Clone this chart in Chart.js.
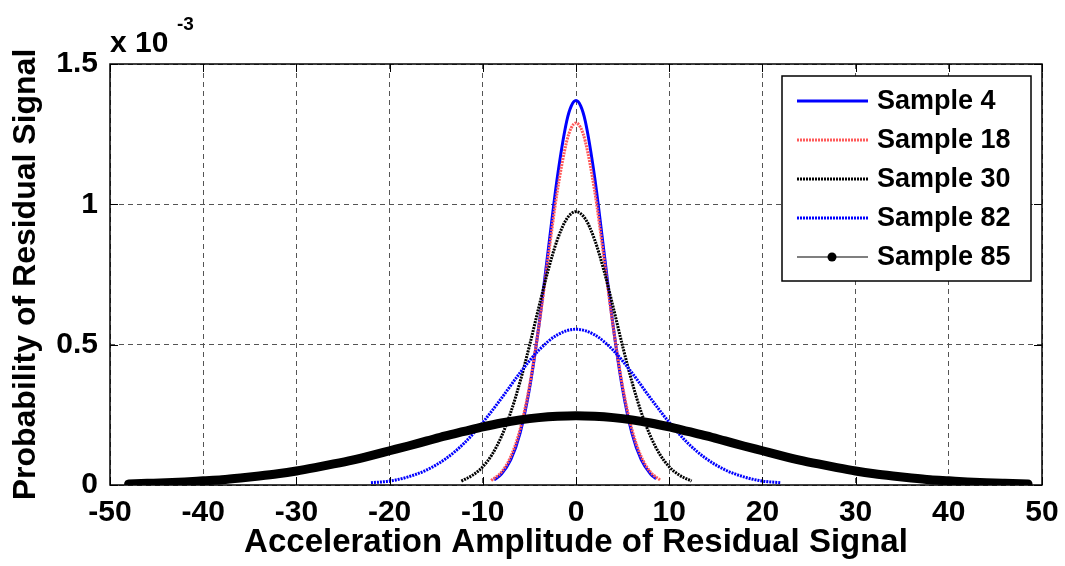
<!DOCTYPE html>
<html>
<head>
<meta charset="utf-8">
<script src="https://cdn.jsdelivr.net/npm/chart.js@4.4.0/dist/chart.umd.min.js"></script>
<style>
  html, body { margin: 0; padding: 0; background: #fff; }
  #wrap { width: 1065px; height: 566px; }
</style>
</head>
<body>
<div id="wrap"><canvas id="pdf" width="1065" height="566"></canvas></div>
<script>
// values (y in units of 1e-3)
const xTicks = [-50, -40, -30, -20, -10, 0, 10, 20, 30, 40, 50];
const yTicks = [0, 0.5, 1, 1.5];
const seriesNames = ["Sample 4", "Sample 18", "Sample 30", "Sample 82", "Sample 85"];

const s4X = [-8.8, -8, -7, -6, -5, -4, -3, -2, -1, -0.5, 0, 0.5, 1, 2, 3, 4, 5, 6, 7, 8, 8.6];
const s4Y = [0.018, 0.039, 0.09, 0.185, 0.342, 0.563, 0.831, 1.097, 1.296, 1.351, 1.37, 1.351, 1.296, 1.097, 0.831, 0.563, 0.342, 0.185, 0.09, 0.039, 0.022];

const s18X = [-9.1, -8, -7, -6, -5, -4, -3, -2, -1, -0.5, 0, 0.5, 1, 2, 3, 4, 5, 6, 7, 8, 9.1];
const s18Y = [0.016, 0.046, 0.101, 0.198, 0.351, 0.561, 0.808, 1.048, 1.224, 1.273, 1.29, 1.273, 1.224, 1.048, 0.808, 0.561, 0.351, 0.198, 0.101, 0.046, 0.016];

const s30X = [-12.3, -11, -10, -9, -8, -7, -6, -5, -4, -3, -2, -1, 0, 1, 2, 3, 4, 5, 6, 7, 8, 9, 10, 11, 12.4];
const s30Y = [0.014, 0.037, 0.065, 0.109, 0.173, 0.259, 0.368, 0.495, 0.632, 0.764, 0.874, 0.948, 0.974, 0.948, 0.874, 0.764, 0.632, 0.495, 0.368, 0.259, 0.173, 0.109, 0.065, 0.037, 0.014];

const s82X = [-22, -20, -18, -16, -14, -12, -10, -8, -6, -4, -2, 0, 2, 4, 6, 8, 10, 12, 14, 16, 18, 20, 22];
const s82Y = [0.008, 0.014, 0.029, 0.054, 0.093, 0.149, 0.223, 0.309, 0.4, 0.48, 0.535, 0.555, 0.535, 0.48, 0.4, 0.309, 0.223, 0.149, 0.093, 0.054, 0.029, 0.014, 0.008];

const s85X = [-48, -46, -44, -42, -40, -38, -36, -34, -32, -30, -28, -26, -24, -22, -20, -18, -16, -14, -12, -10, -8, -6, -4, -2, 0,
              2, 4, 6, 8, 10, 12, 14, 16, 18, 20, 22, 24, 26, 28, 30, 32, 34, 36, 38, 40, 42, 44, 46, 48.5];
const s85Y = [0.004, 0.006, 0.008, 0.011, 0.015, 0.019, 0.025, 0.032, 0.04, 0.05, 0.062, 0.075, 0.089, 0.105, 0.122, 0.139, 0.157, 0.175, 0.191, 0.207, 0.221, 0.232, 0.24, 0.245, 0.247,
              0.245, 0.24, 0.232, 0.221, 0.207, 0.191, 0.175, 0.157, 0.139, 0.122, 0.105, 0.089, 0.075, 0.062, 0.05, 0.04, 0.032, 0.025, 0.019, 0.015, 0.011, 0.008, 0.006, 0.004];

function pts(xs, ys) {
  return xs.map((v, i) => ({ x: v, y: ys[i] }));
}

const FONT = "'Liberation Sans', Arial, sans-serif";

// legend look for each series
const legendStyle = [
  { color: "#0000ff", width: 3, dash: [] },
  { color: "#ff5a5a", width: 3, dash: [2, 1] },
  { color: "#000000", width: 3, dash: [2, 1] },
  { color: "#0000ff", width: 3, dash: [2, 1] },
  { color: "#000000", width: 1.2, dash: [], dot: true },
];

// box, inside ticks, exponent and legend (MATLAB style)
const frame = {
  id: "frame",
  afterDatasetsDraw(chart) {
    const { ctx, chartArea: a, scales } = chart;
    const x = scales.x, y = scales.y;
    ctx.save();
    ctx.strokeStyle = "#000";
    ctx.lineWidth = 1;
    ctx.setLineDash([]);
    ctx.beginPath();
    xTicks.forEach(function (v) {
      const px = Math.round(x.getPixelForValue(v)) + 0.5;
      ctx.moveTo(px, a.bottom); ctx.lineTo(px, a.bottom - 8);
      ctx.moveTo(px, a.top); ctx.lineTo(px, a.top + 8);
    });
    yTicks.forEach(function (v) {
      const py = Math.round(y.getPixelForValue(v)) + 0.5;
      ctx.moveTo(a.left, py); ctx.lineTo(a.left + 8, py);
      ctx.moveTo(a.right, py); ctx.lineTo(a.right - 8, py);
    });
    ctx.stroke();
    ctx.lineWidth = 1.5;
    ctx.strokeRect(a.left, a.top, a.right - a.left, a.bottom - a.top);

    // exponent label
    ctx.fillStyle = "#000";
    ctx.textBaseline = "alphabetic";
    ctx.textAlign = "left";
    ctx.font = "bold 30px " + FONT;
    ctx.fillText("x 10", a.left, a.top - 12);
    ctx.font = "bold 19px " + FONT;
    ctx.fillText("-3", a.left + 67, a.top - 34);

    // legend
    const lx = 782, ly = 76, lw = 249, lh = 205;
    ctx.fillStyle = "#fff";
    ctx.fillRect(lx, ly, lw, lh);
    ctx.lineWidth = 1.5;
    ctx.strokeRect(lx, ly, lw, lh);
    ctx.font = "bold 27px " + FONT;
    ctx.textBaseline = "middle";
    seriesNames.forEach(function (name, i) {
      const s = legendStyle[i];
      const ry = ly + 25 + i * 39;
      ctx.strokeStyle = s.color;
      ctx.lineWidth = s.width;
      ctx.setLineDash(s.dash);
      ctx.beginPath();
      ctx.moveTo(lx + 15, ry);
      ctx.lineTo(lx + 86, ry);
      ctx.stroke();
      ctx.setLineDash([]);
      if (s.dot) {
        ctx.fillStyle = "#000";
        ctx.beginPath();
        ctx.arc(lx + 50, ry, 4.5, 0, Math.PI * 2);
        ctx.fill();
      }
      ctx.fillStyle = "#000";
      ctx.fillText(name, lx + 95, ry + 1);
    });
    ctx.restore();
  },
};

const ctx = document.getElementById("pdf").getContext("2d");
new Chart(ctx, {
  type: "line",
  data: {
    datasets: [
      { label: seriesNames[0], data: pts(s4X, s4Y), borderColor: "#0000ff", borderWidth: 3, order: 5 },
      { label: seriesNames[1], data: pts(s18X, s18Y), borderColor: "#ff5a5a", borderWidth: 3, borderDash: [2, 1], order: 4 },
      { label: seriesNames[2], data: pts(s30X, s30Y), borderColor: "#000000", borderWidth: 3, borderDash: [2, 1], order: 3 },
      { label: seriesNames[3], data: pts(s82X, s82Y), borderColor: "#0000ff", borderWidth: 3, borderDash: [2, 1], order: 2 },
      { label: seriesNames[4], data: pts(s85X, s85Y), borderColor: "#000000", borderWidth: 9, borderCapStyle: "round", borderJoinStyle: "round", order: 1 },
    ],
  },
  options: {
    responsive: false,
    animation: false,
    layout: { padding: { top: 64, right: 23, left: 0, bottom: 0 } },
    elements: {
      point: { radius: 0, hoverRadius: 0 },
      line: { cubicInterpolationMode: "monotone", fill: false },
    },
    plugins: { legend: { display: false }, tooltip: { enabled: false } },
    scales: {
      x: {
        type: "linear",
        min: -50,
        max: 50,
        afterBuildTicks: function (scale) { scale.ticks = xTicks.map(v => ({ value: v })); },
        afterFit: function (scale) {
          scale.height = 81;
          scale.paddingLeft = 0;
          scale.paddingRight = 0;
        },
        ticks: { color: "#000", font: { family: FONT, size: 30, weight: "bold" }, padding: 10, maxRotation: 0 },
        grid: { color: "#555", lineWidth: 1, drawTicks: false },
        border: { display: false, dash: [5, 4] },
        title: {
          display: true,
          text: "Acceleration Amplitude of Residual Signal",
          color: "#000",
          font: { family: FONT, size: 33, weight: "bold", lineHeight: 1.1 },
          padding: { top: 0, bottom: 5 },
        },
      },
      y: {
        min: 0,
        max: 1.5,
        afterBuildTicks: function (scale) { scale.ticks = yTicks.map(v => ({ value: v })); },
        afterFit: function (scale) { scale.width = 110; },
        ticks: {
          color: "#000",
          font: { family: FONT, size: 30, weight: "bold" },
          padding: 12,
          callback: function (v) { return String(v); },
        },
        grid: { color: "#555", lineWidth: 1, drawTicks: false },
        border: { display: false, dash: [5, 4] },
        title: {
          display: true,
          text: "Probability of Residual Signal",
          color: "#000",
          font: { family: FONT, size: 32, weight: "bold" },
          padding: { top: 7, bottom: 0 },
        },
      },
    },
  },
  plugins: [frame],
});
</script>
</body>
</html>
